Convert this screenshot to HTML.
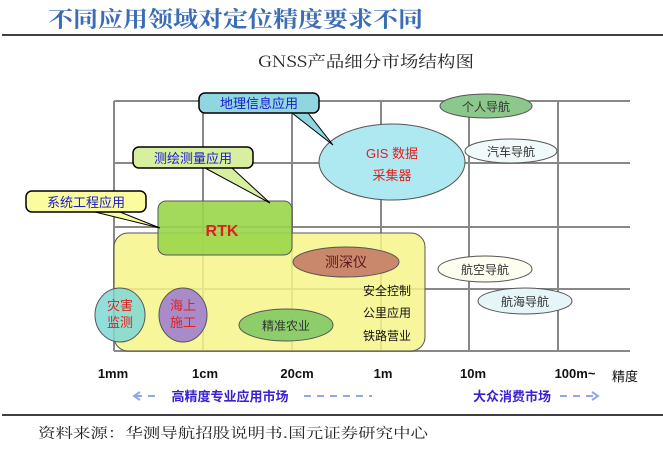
<!DOCTYPE html><html><head><meta charset="utf-8"><style>
body{margin:0;background:#fff;width:663px;height:449px;overflow:hidden}
</style></head><body>
<svg width="663" height="449" xmlns="http://www.w3.org/2000/svg" font-family="Liberation Sans, Noto Sans CJK SC, sans-serif">
<text x="48" y="27" font-size="22" fill="#3b6db4" textLength="375" lengthAdjust="spacingAndGlyphs" font-family="Noto Serif CJK SC, serif" font-weight="bold">不同应用领域对定位精度要求不同</text>
<line x1="2" y1="35" x2="663" y2="35" stroke="#000" stroke-width="1.5"/>
<text x="258" y="67" font-size="16" textLength="216" lengthAdjust="spacingAndGlyphs" fill="#222" font-family="Noto Serif CJK SC, serif">GNSS产品细分市场结构图</text>
<g stroke="#888" stroke-width="2">
<line x1="114" y1="101" x2="630" y2="101"/><line x1="114" y1="163" x2="630" y2="163"/><line x1="114" y1="227" x2="630" y2="227"/><line x1="114" y1="289" x2="630" y2="289"/><line x1="114" y1="351" x2="630" y2="351"/>
<line x1="114" y1="101" x2="114" y2="351"/><line x1="203" y1="101" x2="203" y2="351"/><line x1="292" y1="101" x2="292" y2="351"/><line x1="381" y1="101" x2="381" y2="351"/><line x1="469" y1="101" x2="469" y2="351"/><line x1="558" y1="101" x2="558" y2="351"/>
</g>
<rect x="114" y="233" width="311" height="118" rx="14" fill="#f7f58a" fill-opacity="0.85" stroke="#555"/>
<rect x="158" y="201" width="134" height="54" rx="8" fill="#9ad64a" fill-opacity="0.9" stroke="#555"/>
<text x="222" y="236" font-size="16" font-weight="bold" fill="#e02020" text-anchor="middle">RTK</text>
<ellipse cx="392" cy="162" rx="73" ry="38" fill="#aee9f2" stroke="#555"/>
<text x="392" y="158" font-size="13" fill="#e02020" text-anchor="middle">GIS 数据</text>
<text x="392" y="180" font-size="13" fill="#e02020" text-anchor="middle">采集器</text>
<ellipse cx="486" cy="106" rx="46" ry="12" fill="#8cc88c" stroke="#555"/>
<text x="486" y="111" font-size="12" fill="#333" text-anchor="middle">个人导航</text>
<ellipse cx="511" cy="151" rx="46" ry="12" fill="#f0fafa" stroke="#555"/>
<text x="511" y="156" font-size="12" fill="#333" text-anchor="middle">汽车导航</text>
<ellipse cx="346" cy="262" rx="53" ry="15" fill="#c9876c" stroke="#555"/>
<text x="346" y="267" font-size="14" fill="#5a1a1a" text-anchor="middle">测深仪</text>
<ellipse cx="485" cy="269" rx="47" ry="13" fill="#fdfdf0" stroke="#555"/>
<text x="485" y="274" font-size="12" fill="#333" text-anchor="middle">航空导航</text>
<ellipse cx="525" cy="301" rx="47" ry="13" fill="#e6f6f8" stroke="#555"/>
<text x="525" y="306" font-size="12" fill="#333" text-anchor="middle">航海导航</text>
<ellipse cx="120" cy="315" rx="25" ry="27" fill="#7fd8d6" fill-opacity="0.85" stroke="#555"/>
<text x="120" y="310" font-size="13" fill="#e02020" text-anchor="middle">灾害</text>
<text x="120" y="327" font-size="13" fill="#e02020" text-anchor="middle">监测</text>
<ellipse cx="183" cy="315" rx="24" ry="27" fill="#a98bc9" stroke="#555"/>
<text x="183" y="310" font-size="13" fill="#e02020" text-anchor="middle">海上</text>
<text x="183" y="327" font-size="13" fill="#e02020" text-anchor="middle">施工</text>
<ellipse cx="286" cy="325" rx="47" ry="16" fill="#8dce6a" stroke="#555"/>
<text x="286" y="330" font-size="12" fill="#333" text-anchor="middle">精准农业</text>
<text x="387" y="295" font-size="12" fill="#111" text-anchor="middle">安全控制</text>
<text x="387" y="317" font-size="12" fill="#111" text-anchor="middle">公里应用</text>
<text x="387" y="340" font-size="12" fill="#111" text-anchor="middle">铁路营业</text>
<polygon points="292,113 308,113 333,145" fill="#8fd6e0" stroke="#000"/>
<rect x="199" y="93" width="120" height="20" rx="6" fill="#8fd6e0" stroke="#000" stroke-width="1.5"/>
<text x="259" y="108" font-size="13" fill="#1a1acc" text-anchor="middle">地理信息应用</text>
<polygon points="205,168 232,168 270,203" fill="#d7f0a0" stroke="#000"/>
<rect x="133" y="147" width="120" height="21" rx="6" fill="#d7f0a0" stroke="#000" stroke-width="1.5"/>
<text x="193" y="163" font-size="13" fill="#1a1acc" text-anchor="middle">测绘测量应用</text>
<polygon points="95,212 120,212 160,228" fill="#fbfba0" stroke="#000"/>
<rect x="26" y="191" width="120" height="21" rx="6" fill="#fbfba0" stroke="#000" stroke-width="1.5"/>
<text x="86" y="207" font-size="13" fill="#1a1acc" text-anchor="middle">系统工程应用</text>
<g font-size="13" font-weight="bold" fill="#111" text-anchor="middle">
<text x="113" y="378">1mm</text><text x="205" y="378">1cm</text><text x="297" y="378">20cm</text><text x="383" y="378">1m</text><text x="473" y="378">10m</text><text x="575" y="378">100m~</text>
</g>
<text x="625" y="381" font-size="13" fill="#111" text-anchor="middle">精度</text>
<line x1="135" y1="396" x2="372" y2="396" stroke="#8fa8e8" stroke-width="2" stroke-dasharray="7,6"/>
<polyline points="140,392 134,396 140,400" fill="none" stroke="#8fa8e8" stroke-width="2"/>
<rect x="158" y="386" width="145" height="18" fill="#fff"/>
<text x="230" y="401" font-size="13" font-weight="bold" fill="#3a22d0" text-anchor="middle">高精度专业应用市场</text>
<line x1="560" y1="396" x2="598" y2="396" stroke="#8fa8e8" stroke-width="2" stroke-dasharray="7,6"/>
<polyline points="592,392 598,396 592,400" fill="none" stroke="#8fa8e8" stroke-width="2"/>
<text x="512" y="401" font-size="13" font-weight="bold" fill="#3a22d0" text-anchor="middle">大众消费市场</text>
<line x1="2" y1="415" x2="663" y2="415" stroke="#000" stroke-width="1.5"/>
<text x="38" y="438" font-size="14" textLength="390" lengthAdjust="spacingAndGlyphs" fill="#222" font-family="Noto Serif CJK SC, serif">资料来源：华测导航招股说明书.国元证券研究中心</text>
</svg>
</body></html>
